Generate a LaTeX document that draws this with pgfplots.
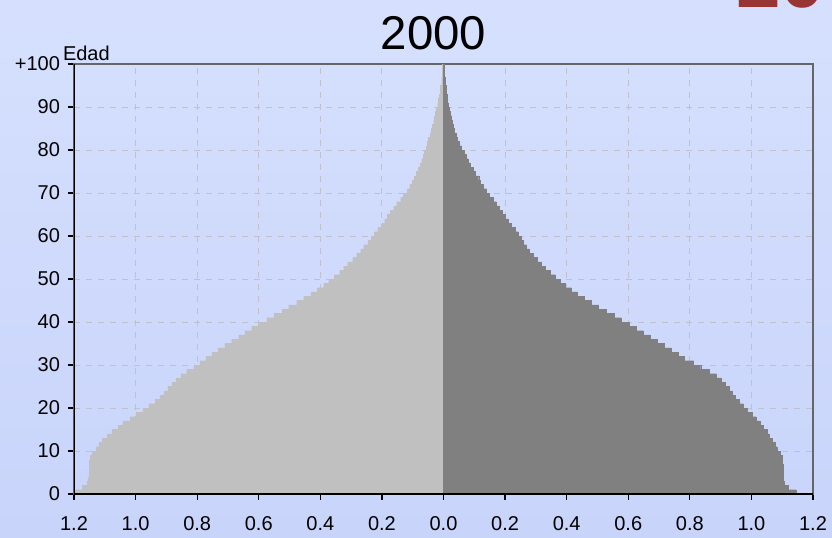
\documentclass[border=0pt]{standalone}
\usepackage{fontspec}
\setmainfont{Liberation Sans}
\usepackage{pgfplots}
\pgfplotsset{compat=1.18}
\usepackage{pgfplotstable}
\definecolor{fondoA}{RGB}{214,224,254}
\definecolor{fondoB}{RGB}{200,212,250}
\definecolor{rejilla}{RGB}{192,193,204}
\definecolor{barraH}{RGB}{192,192,192}
\definecolor{barraM}{RGB}{128,128,128}
\definecolor{rojo}{RGB}{153,52,52}

% edad, hombres (izq.), mujeres (der.)
\pgfplotstableread{
edad h m
0 1.195 1.145
1 1.173 1.119
2 1.158 1.106
3 1.155 1.103
4 1.151 1.103
5 1.151 1.103
6 1.151 1.103
7 1.150 1.100
8 1.148 1.100
9 1.142 1.093
10 1.129 1.083
11 1.119 1.077
12 1.109 1.067
13 1.093 1.057
14 1.077 1.051
15 1.057 1.038
16 1.041 1.028
17 1.018 1.015
18 0.999 1.002
19 0.976 0.986
20 0.957 0.973
21 0.937 0.960
22 0.921 0.947
23 0.908 0.937
24 0.895 0.928
25 0.882 0.915
26 0.869 0.902
27 0.853 0.885
28 0.834 0.862
29 0.811 0.835
30 0.791 0.812
31 0.772 0.782
32 0.752 0.762
33 0.733 0.740
34 0.710 0.717
35 0.688 0.694
36 0.665 0.671
37 0.645 0.649
38 0.623 0.626
39 0.600 0.603
40 0.574 0.577
41 0.551 0.555
42 0.525 0.529
43 0.503 0.503
44 0.477 0.480
45 0.454 0.457
46 0.431 0.435
47 0.409 0.415
48 0.389 0.396
49 0.373 0.380
50 0.354 0.363
51 0.337 0.347
52 0.324 0.331
53 0.311 0.318
54 0.295 0.305
55 0.282 0.292
56 0.269 0.279
57 0.259 0.269
58 0.246 0.259
59 0.234 0.253
60 0.224 0.243
61 0.214 0.233
62 0.201 0.221
63 0.191 0.211
64 0.182 0.201
65 0.172 0.191
66 0.162 0.182
67 0.152 0.172
68 0.139 0.162
69 0.130 0.149
70 0.117 0.139
71 0.110 0.130
72 0.101 0.120
73 0.094 0.114
74 0.088 0.104
75 0.081 0.097
76 0.075 0.088
77 0.071 0.081
78 0.065 0.075
79 0.062 0.068
80 0.055 0.058
81 0.052 0.052
82 0.049 0.045
83 0.042 0.042
84 0.039 0.036
85 0.036 0.032
86 0.032 0.029
87 0.029 0.026
88 0.026 0.023
89 0.023 0.019
90 0.019 0.016
91 0.016 0.013
92 0.013 0.013
93 0.010 0.010
94 0.010 0.010
95 0.006 0.006
96 0.006 0.006
97 0.003 0.003
98 0.003 0.003
99 0.003 0.003
}\piramide

\begin{document}
\begin{tikzpicture}
\useasboundingbox (0,0) rectangle (416pt,268.5pt);
\shade[top color=fondoA, bottom color=fondoB] (0,0) rectangle (416pt,268.5pt);
\node[anchor=base west, inner sep=0pt, text=rojo,
  font=\fontsize{40}{40}\selectfont\bfseries] at (368pt,264.5pt) {2000};
\begin{axis}[
  at={(37pt,21.5pt)}, anchor=south west,
  scale only axis, width=369.5pt, height=215pt,
  xmin=-1.2, xmax=1.2, ymin=0, ymax=100,
  xbar, bar width=1, bar shift=0,
  xtick={-1.2,-1.0,-0.8,-0.6,-0.4,-0.2,0,0.2,0.4,0.6,0.8,1.0,1.2},
  xticklabels={1.2,1.0,0.8,0.6,0.4,0.2,0.0,0.2,0.4,0.6,0.8,1.0,1.2},
  ytick={0,10,...,100},
  yticklabels={0,10,20,30,40,50,60,70,80,90,+100},
  grid=major,
  major grid style={rejilla, line width=0.5pt, dash pattern=on 3pt off 3pt},
  tick align=outside, xtick pos=bottom, ytick pos=left,
  major tick length=3pt,
  tick style={black, line width=0.6pt},
  axis line style={draw=black!60, line width=0.6pt},
  x tick label style={font=\fontsize{10}{11}\selectfont, yshift=-4.5pt},
  y tick label style={font=\fontsize{10}{11}\selectfont, xshift=-0.5pt},
]
\addplot[fill=barraH, draw=barraH, line width=0.1pt]
  table[x expr=-\thisrow{h}, y expr=\thisrow{edad}+0.5] {\piramide};
\addplot[fill=barraM, draw=barraM, line width=0.1pt]
  table[x=m, y expr=\thisrow{edad}+0.5] {\piramide};
\draw[black, line width=0.8pt] (rel axis cs:0,1) -- (rel axis cs:0,0) -- (rel axis cs:1,0);
\end{axis}
\node[anchor=base, inner sep=0pt, font=\fontsize{23.7}{24}\selectfont] at (216.75pt,243.85pt) {2000};
\node[anchor=base west, inner sep=0pt, font=\fontsize{10}{11}\selectfont] at (31.3pt,238pt) {Edad};
\end{tikzpicture}
\end{document}
